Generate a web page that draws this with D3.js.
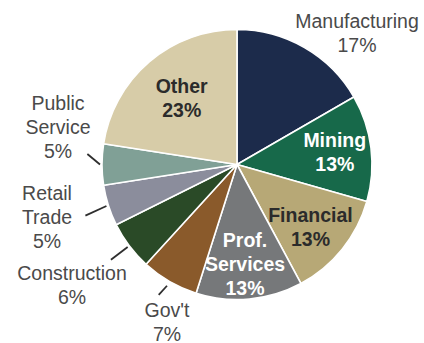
<!DOCTYPE html>
<html>
<head>
<meta charset="utf-8">
<script src="https://cdn.jsdelivr.net/npm/d3@7"></script>
<style>
  html, body { margin: 0; padding: 0; background: #ffffff; }
  svg { display: block; }
</style>
</head>
<body>
<svg id="chart" width="424" height="343"></svg>
<script>
// Sectors, clockwise from 12 o'clock
const sectors = ["Manufacturing", "Mining", "Financial", "Prof. Services", "Gov't",
                 "Construction", "Retail Trade", "Public Service", "Other"];
const shares = [17, 13, 13, 13, 7, 6, 5, 5, 23];
const sectorLines = [["Manufacturing"], ["Mining"], ["Financial"], ["Prof.", "Services"], ["Gov't"],
                     ["Construction"], ["Retail", "Trade"], ["Public", "Service"], ["Other"]];

const fills = ["#1c2b4b", "#17694a", "#b7a876", "#76787a", "#8a5a2b",
               "#2a4a27", "#8b8d9c", "#80a096", "#d7cca8"];

// Label placement: inside labels sit at a radius fraction of the pie
// (with a small angular nudge in degrees); outside labels get an anchor
// point and a short leader line [inner radius, outer radius, angle nudge].
const labelLayout = [
  { outside: true,  x: 357, y: 28,  color: "#4a4a4a", bold: false },
  { outside: false, rf: 0.73, da: 0,   color: "#ffffff", bold: true },
  { outside: false, rf: 0.715, da: 1.6, color: "#2b2b2b", bold: true },
  { outside: false, rf: 0.74, da: 0.7, color: "#ffffff", bold: true },
  { outside: true,  x: 167, y: 317, color: "#4a4a4a", bold: false, leader: [140, 152, 1] },
  { outside: true,  x: 72,  y: 280, color: "#4a4a4a", bold: false, leader: [137, 158, 0] },
  { outside: true,  x: 47,  y: 200, color: "#4a4a4a", bold: false, leader: [137, 160, -1] },
  { outside: true,  x: 58,  y: 110, color: "#4a4a4a", bold: false, leader: [137, 150, 4] },
  { outside: false, rf: 0.64, da: 0.8, color: "#2b2b2b", bold: true }
];

const cx = 237, cy = 164.5, R = 135;
const fontSize = 19.5, lineH = 24;

const svg = d3.select("#chart");
const g = svg.append("g").attr("transform", `translate(${cx},${cy})`);

const pie = d3.pie().sort(null).value(d => d);
const arcs = pie(shares);
const arc = d3.arc().innerRadius(0).outerRadius(R);

g.selectAll("path.slice")
  .data(arcs)
  .join("path")
  .attr("class", "slice")
  .attr("d", arc)
  .attr("fill", (d, i) => fills[i])
  .attr("stroke", "#ffffff")
  .attr("stroke-width", 1.6)
  .attr("stroke-linejoin", "round");

const rad = deg => deg * Math.PI / 180;
const polar = (r, a) => [r * Math.sin(a), -r * Math.cos(a)];

// Leader lines for outside labels
arcs.forEach((d, i) => {
  const L = labelLayout[i];
  if (!L.leader) return;
  const mid = (d.startAngle + d.endAngle) / 2;
  const [r1, r2, shift] = L.leader;
  const p1 = polar(r1, mid);
  const p2 = polar(r2, mid + rad(shift));
  g.append("line")
    .attr("x1", p1[0]).attr("y1", p1[1])
    .attr("x2", p2[0]).attr("y2", p2[1])
    .attr("stroke", "#2e2e2e")
    .attr("stroke-width", 1.8);
});

// Text labels
arcs.forEach((d, i) => {
  const L = labelLayout[i];
  const lines = sectorLines[i].concat([shares[i] + "%"]);
  let x, yFirst;
  if (L.outside) {
    x = L.x; yFirst = L.y;
  } else {
    const mid = (d.startAngle + d.endAngle) / 2 + rad(L.da);
    const p = polar(R * L.rf, mid);
    x = cx + p[0];
    // center the block vertically on the point
    yFirst = cy + p[1] - (lines.length - 1) * lineH / 2 + fontSize * 0.36;
  }
  const t = svg.append("text")
    .attr("x", x)
    .attr("text-anchor", "middle")
    .attr("font-family", "'Liberation Sans', Arial, Helvetica, sans-serif")
    .attr("font-size", fontSize)
    .attr("font-weight", L.bold ? "bold" : "normal")
    .attr("fill", L.color);
  lines.forEach((s, k) => {
    t.append("tspan").attr("x", x).attr("y", yFirst + k * lineH).text(s);
  });
});
</script>
</body>
</html>
